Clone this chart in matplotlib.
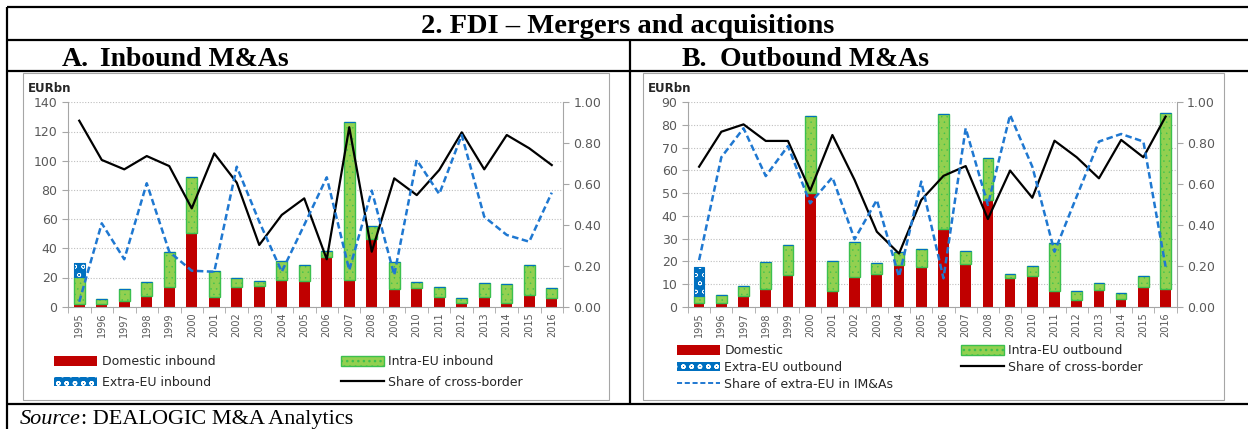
import numpy as np
import matplotlib
matplotlib.use("Agg")
import matplotlib.pyplot as plt
import matplotlib.patches as mpatches
import matplotlib.lines as mlines
from matplotlib.legend import Legend
from matplotlib.ticker import FormatStrFormatter, MultipleLocator

W, H = 1248, 429

years = [str(y) for y in range(1995, 2017)]

# A. Inbound M&As (EURbn, shares 0-1)
in_domestic = [1.6, 1.8, 3.9, 7.3, 13.5, 50.2, 6.9, 13.2, 14.2, 18.5, 17.6,
               33.8, 18.5, 46.6, 12.3, 12.6, 6.4, 2.7, 6.9, 2.7, 8.0, 5.9]
in_intra = [18.5, 3.2, 8.0, 9.8, 24.0, 38.8, 17.5, 6.2, 3.6, 12.6, 10.9,
            4.5, 108.2, 8.4, 18.3, 4.5, 7.1, 3.5, 9.5, 13.1, 20.5, 7.1]
in_extra = [9.6, 0, 0, 0, 0, 0, 0, 0, 0, 0, 0,
            0, 0, 0, 0, 0, 0, 0, 0, 0, 0, 0]
in_cross = [0.91, 0.718, 0.672, 0.737, 0.688, 0.481, 0.75, 0.607, 0.302, 0.449, 0.53,
            0.232, 0.878, 0.269, 0.628, 0.546, 0.669, 0.853, 0.672, 0.84, 0.775, 0.693]
in_extra_share = [0.024, 0.408, 0.232, 0.604, 0.269, 0.176, 0.171, 0.685, 0.416, 0.171, 0.40,
                  0.633, 0.179, 0.568, 0.155, 0.718, 0.551, 0.84, 0.44, 0.351, 0.318, 0.558]

# B. Outbound M&As
out_domestic = [1.8, 1.8, 4.6, 7.8, 14.1, 50.2, 7.0, 13.2, 14.2, 18.4, 17.6,
                34.1, 18.8, 47.0, 12.5, 13.5, 7.0, 2.9, 7.3, 3.2, 8.5, 7.8]
out_intra = [2.9, 3.2, 4.4, 11.9, 12.9, 33.8, 13.3, 15.4, 4.9, 5.8, 7.7,
             50.8, 5.7, 18.3, 1.7, 4.4, 21.2, 4.0, 3.0, 3.0, 5.0, 77.4]
out_extra = [12.6, 0, 0, 0, 0, 0, 0, 0, 0, 0, 0,
             0, 0, 0, 0, 0, 0, 0, 0, 0, 0, 0]
out_cross = [0.685, 0.856, 0.892, 0.811, 0.811, 0.568, 0.84, 0.62, 0.367, 0.26, 0.522,
             0.64, 0.688, 0.429, 0.666, 0.533, 0.812, 0.731, 0.628, 0.816, 0.731, 0.93]
out_extra_share = [0.228, 0.731, 0.873, 0.639, 0.786, 0.506, 0.633, 0.33, 0.522, 0.147, 0.612,
                   0.139, 0.873, 0.498, 0.938, 0.685, 0.269, 0.54, 0.808, 0.845, 0.808, 0.196]

RED = "#C00000"
GREEN = "#92D050"
GREEN_EDGE = "#3CC04E"
BLUE = "#0070C0"
DASH_BLUE = "#1F78D1"
GRAY = "#A6A6A6"
TXT = "#595959"


def px_rect(x0, y0, x1, y1):
    return [x0 / W, 1 - y1 / H, (x1 - x0) / W, (y1 - y0) / H]


fig = plt.figure(figsize=(W / 100, H / 100), dpi=100)

# background "table" in pixel coordinates
frame = fig.add_axes([0, 0, 1, 1], zorder=0)
frame.set_xlim(0, W)
frame.set_ylim(H, 0)
frame.axis("off")

lw_b = 1.6
for xs, ys in [([7, W], [6.5, 6.5]), ([7, W], [39.5, 39.5]), ([7, W], [70.7, 70.7]),
               ([7, W], [404.3, 404.3]), ([7, 7], [6.5, H]), ([630, 630], [39.5, 404.3])]:
    frame.plot(xs, ys, color="black", lw=lw_b, solid_capstyle="butt")

for x0, x1 in [(23, 609), (643, 1224)]:
    frame.add_patch(mpatches.Rectangle((x0, 73), x1 - x0, 400 - 73, facecolor="white",
                                       edgecolor=GRAY, lw=0.8))

serif = "Liberation Serif"
frame.text(628, 33, "2. FDI \u2013 Mergers and acquisitions", family=serif, weight="bold",
           fontsize=20.5, ha="center", va="baseline")
frame.text(62, 66, "A.", family=serif, weight="bold", fontsize=20, va="baseline")
frame.text(100, 66, "Inbound M&As", family=serif, weight="bold", fontsize=20, va="baseline")
frame.text(682, 66, "B.", family=serif, weight="bold", fontsize=20, va="baseline")
frame.text(720, 66, "Outbound M&As", family=serif, weight="bold", fontsize=20, va="baseline")

src = frame.text(20, 424, "Source", family=serif, style="italic", fontsize=16, va="baseline")
renderer = fig.canvas.get_renderer()
bb = src.get_window_extent(renderer)
x_end = frame.transData.inverted().transform((bb.x1, bb.y0))[0]
frame.text(x_end, 424, ": DEALOGIC M&A Analytics", family=serif, fontsize=16, va="baseline")


def draw_panel(rect, domestic, intra, extra, cross, extra_share, ymax, ystep, eur_x):
    ax = fig.add_axes(rect)
    ax.set_zorder(1)
    ax.patch.set_visible(False)
    x = np.arange(len(years))
    bw = 0.48
    dom = np.array(domestic)
    itr = np.array(intra)
    ax.bar(x, dom, width=bw, color=RED, lw=0, zorder=2)
    with plt.rc_context({"hatch.linewidth": 0.3}):
        ax.bar(x, itr, bottom=dom, width=bw, facecolor=GREEN, edgecolor=GREEN_EDGE,
               lw=1.0, hatch="...", zorder=2)
    with plt.rc_context({"hatch.linewidth": 0.45}):
        ax.bar(x, extra, bottom=dom + itr, width=bw, facecolor=BLUE, edgecolor="white",
               lw=0, hatch="oo", zorder=2)
    ax.bar(x, extra, bottom=dom + itr, width=bw, fill=False, edgecolor=BLUE, lw=0.8, zorder=2)

    ax.set_xlim(-0.5, len(years) - 0.5)
    ax.set_ylim(0, ymax)
    ax.yaxis.set_major_locator(MultipleLocator(ystep))
    ax.set_axisbelow(True)
    ax.yaxis.grid(True, linestyle=(0, (1, 1.5)), color="#BFBFBF", lw=0.8)
    ax.set_xticks(x)
    ax.set_xticklabels(years, rotation=90, fontsize=7, color=TXT)
    ax.set_xticks(np.arange(-0.5, len(years), 1), minor=True)
    ax.tick_params(axis="x", which="major", length=0, pad=4)
    ax.tick_params(axis="x", which="minor", length=4, color=GRAY)
    ax.tick_params(axis="y", length=4, color=GRAY, labelsize=9, labelcolor=TXT)
    for s in ["top", "right"]:
        ax.spines[s].set_visible(False)
    for s in ["left", "bottom"]:
        ax.spines[s].set_color(GRAY)

    ax2 = ax.twinx()
    ax2.set_zorder(2)
    ax2.patch.set_visible(False)
    ax2.plot(x, cross, color="black", lw=1.6)
    ax2.plot(x, extra_share, color=DASH_BLUE, lw=1.8, dashes=(2.6, 1.4))
    ax2.set_ylim(0, 1)
    ax2.yaxis.set_major_locator(MultipleLocator(0.2))
    ax2.yaxis.set_major_formatter(FormatStrFormatter("%.2f"))
    ax2.tick_params(axis="y", length=4, color=GRAY, labelsize=9, labelcolor=TXT)
    for s in ["top", "left", "bottom"]:
        ax2.spines[s].set_visible(False)
    ax2.spines["right"].set_color(GRAY)

    frame.text(eur_x, 88, "EURbn", fontsize=8.5, weight="bold", color="#262626", va="center")
    return ax


draw_panel(px_rect(68, 102.3, 563, 306.7), in_domestic, in_intra, in_extra,
           in_cross, in_extra_share, 140, 20, 28)
draw_panel(px_rect(688, 102.3, 1176.7, 306.7), out_domestic, out_intra, out_extra,
           out_cross, out_extra_share, 90, 10, 648)


def h_dom():
    return mpatches.Patch(facecolor=RED, edgecolor=RED, lw=0)


def h_intra():
    with plt.rc_context({"hatch.linewidth": 0.3}):
        return mpatches.Patch(facecolor=GREEN, edgecolor=GREEN_EDGE, lw=1.0, hatch="...")


def h_extra():
    with plt.rc_context({"hatch.linewidth": 0.45}):
        return mpatches.Patch(facecolor=BLUE, edgecolor="white", lw=0, hatch="oo")


def h_cross():
    return mlines.Line2D([], [], color="black", lw=1.6)


def h_share():
    return mlines.Line2D([], [], color=DASH_BLUE, lw=1.4, dashes=(2.6, 1.4))


def add_legend(handles, labels, x, y, spacing):
    leg = Legend(frame, handles, labels, loc="center left", bbox_to_anchor=(x, y),
                 bbox_transform=frame.transData, frameon=False, fontsize=9,
                 handlelength=3.4, handleheight=0.8, handletextpad=0.4,
                 borderpad=0, borderaxespad=0, labelspacing=spacing)
    for t in leg.get_texts():
        t.set_color("#262626")
    frame.add_artist(leg)


add_legend([h_dom(), h_extra()], ["Domestic inbound", "Extra-EU inbound"], 54, 372, 0.62)
add_legend([h_intra(), h_cross()], ["Intra-EU inbound", "Share of cross-border"], 341, 372, 0.62)
add_legend([h_dom(), h_extra(), h_share()],
           ["Domestic", "Extra-EU outbound", "Share of extra-EU in IM&As"], 677, 367.5, 0.3)
add_legend([h_intra(), h_cross()], ["Intra-EU outbound", "Share of cross-border"], 961, 359, 0.3)

fig.savefig("out.png", dpi=100)
